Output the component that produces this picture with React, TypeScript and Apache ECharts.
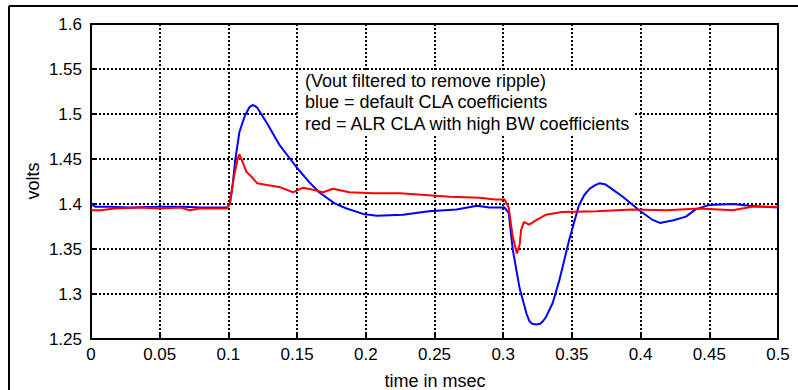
import React, { useEffect, useRef } from "react";
import * as echarts from "echarts";

const blueT = [0, 0.003, 0.014, 0.028, 0.05, 0.068, 0.079, 0.09, 0.099, 0.101, 0.103, 0.105, 0.108, 0.112, 0.1155, 0.118, 0.121, 0.128, 0.137, 0.15, 0.159, 0.166, 0.177, 0.186, 0.198, 0.208, 0.227, 0.246, 0.266, 0.281, 0.29, 0.301, 0.304, 0.307, 0.312, 0.317, 0.319, 0.321, 0.324, 0.327, 0.329, 0.331, 0.336, 0.341, 0.348, 0.355, 0.359, 0.363, 0.367, 0.37, 0.374, 0.377, 0.387, 0.399, 0.408, 0.414, 0.424, 0.433, 0.44, 0.45, 0.467, 0.479, 0.49, 0.5];
const blueV = [1.4, 1.397, 1.397, 1.396, 1.397, 1.397, 1.396, 1.396, 1.396, 1.4, 1.42, 1.449, 1.48, 1.498, 1.508, 1.51, 1.507, 1.49, 1.466, 1.44, 1.424, 1.413, 1.401, 1.395, 1.389, 1.387, 1.388, 1.392, 1.394, 1.398, 1.396, 1.396, 1.39, 1.349, 1.306, 1.278, 1.27, 1.267, 1.266, 1.267, 1.27, 1.274, 1.29, 1.316, 1.36, 1.398, 1.41, 1.417, 1.421, 1.423, 1.422, 1.419, 1.408, 1.393, 1.383, 1.379, 1.382, 1.386, 1.394, 1.399, 1.4, 1.398, 1.397, 1.396];

const redT = [0, 0.007, 0.017, 0.036, 0.05, 0.065, 0.072, 0.079, 0.09, 0.099, 0.101, 0.104, 0.107, 0.108, 0.11, 0.113, 0.117, 0.121, 0.128, 0.137, 0.147, 0.154, 0.161, 0.169, 0.176, 0.188, 0.206, 0.225, 0.243, 0.261, 0.283, 0.294, 0.301, 0.304, 0.307, 0.31, 0.312, 0.313, 0.315, 0.319, 0.324, 0.331, 0.343, 0.368, 0.394, 0.419, 0.443, 0.467, 0.481, 0.5];
const redV = [1.393, 1.393, 1.395, 1.396, 1.395, 1.396, 1.393, 1.395, 1.395, 1.395, 1.4, 1.43, 1.452, 1.455, 1.448, 1.436, 1.43, 1.423, 1.421, 1.419, 1.413, 1.418, 1.416, 1.413, 1.417, 1.413, 1.412, 1.412, 1.41, 1.408, 1.407, 1.405, 1.405, 1.396, 1.363, 1.345, 1.355, 1.371, 1.38, 1.377, 1.382, 1.388, 1.391, 1.392, 1.394, 1.393, 1.395, 1.393, 1.397, 1.397];

const annotationLines = [
  "(Vout filtered to remove ripple)",
  "blue = default CLA coefficients",
  "red = ALR CLA with high BW coefficients",
];
const xAxisTitle = "time in msec";
const yAxisTitle = "volts";

const FONT = '"Liberation Sans", Arial, sans-serif';

export default function App() {
  const ref = useRef<HTMLDivElement>(null);
  useEffect(() => {
    if (!ref.current) return;
    const chart = echarts.init(ref.current, undefined, { renderer: "svg" });
    const gridLine = { show: true, lineStyle: { color: "#000", type: [2, 2] as any, width: 2 } };
    chart.setOption({
      animation: false,
      backgroundColor: "#fff",
      grid: { left: 91, top: 24, width: 687, height: 315, show: true, borderColor: "#000", borderWidth: 2, backgroundColor: "transparent" },
      xAxis: {
        type: "value", min: 0, max: 0.5, interval: 0.05,
        axisLine: { lineStyle: { color: "#000", width: 2 } },
        axisTick: { inside: true, length: 5, lineStyle: { color: "#000", width: 2 } },
        axisLabel: { color: "#000", fontSize: 17, fontFamily: FONT, margin: 7 },
        splitLine: gridLine,
      },
      yAxis: {
        type: "value", min: 1.25, max: 1.6, interval: 0.05,
        axisLine: { show: true, lineStyle: { color: "#000", width: 2 } },
        axisTick: { show: true, inside: true, length: 5, lineStyle: { color: "#000", width: 2 } },
        axisLabel: { color: "#000", fontSize: 17, fontFamily: FONT, margin: 9 },
        splitLine: gridLine,
      },
      series: [
        { type: "line", data: blueT.map((t, i) => [t, blueV[i]]), showSymbol: false, lineStyle: { color: "#0000ff", width: 2 }, z: 3 },
        { type: "line", data: redT.map((t, i) => [t, redV[i]]), showSymbol: false, lineStyle: { color: "#ff0000", width: 2 }, z: 4 },
      ],
      graphic: [
        { type: "line", shape: { x1: 9, y1: 6, x2: 798, y2: 6 }, style: { stroke: "#000", lineWidth: 2 } },
        { type: "line", shape: { x1: 9, y1: 6, x2: 9, y2: 390 }, style: { stroke: "#000", lineWidth: 2 } },
        { type: "rect", shape: { x: 299, y: 70, width: 336, height: 64 }, style: { fill: "#fff" }, z: 10 },
        {
          type: "text", x: 305, y: 70, z: 11,
          style: { text: annotationLines.join("\n"), font: `18px ${FONT}`, fill: "#000", lineHeight: 21.5, verticalAlign: "top" },
        },
        { type: "text", x: 33, y: 181, rotation: Math.PI / 2, style: { text: yAxisTitle, font: `18px ${FONT}`, fill: "#000", align: "center", verticalAlign: "middle" } },
        { type: "text", x: 435, y: 381, style: { text: xAxisTitle, font: `18px ${FONT}`, fill: "#000", align: "center", verticalAlign: "middle" } },
      ],
    });
    return () => chart.dispose();
  }, []);
  return <div ref={ref} style={{ position: "fixed", left: 0, top: 0, width: 798, height: 390 }} />;
}
